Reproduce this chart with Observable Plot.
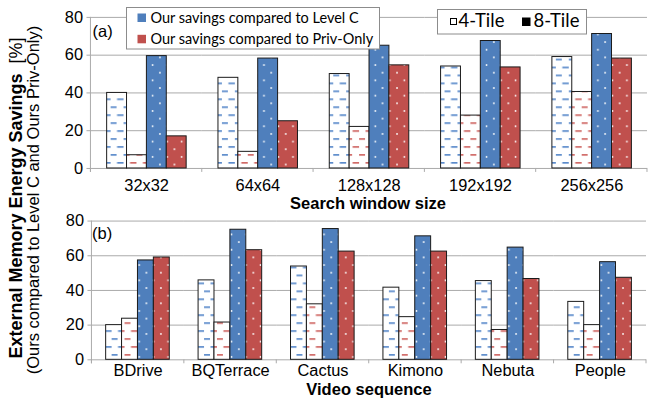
<!DOCTYPE html>
<html><head><meta charset="utf-8">
<script src="https://cdn.jsdelivr.net/npm/d3@7"></script>
<script src="https://cdn.jsdelivr.net/npm/@observablehq/plot@0.6"></script>
<style>
html,body{margin:0;padding:0;overflow:hidden;background:#fff;width:648px;height:400px;}
#wrap{position:relative;width:648px;height:400px;overflow:hidden;}
#wrap svg.panel{position:absolute;left:0;}
#overlay{position:absolute;left:0;top:0;pointer-events:none;}
</style></head>
<body><div id="wrap">
<svg width="0" height="0" style="position:absolute;left:0;top:0">
<defs>
<pattern id="p4c" patternUnits="userSpaceOnUse" width="13" height="16">
  <rect width="13" height="16" fill="#fff"/>
  <rect x="0.5" y="3" width="6.5" height="1.7" fill="#5b8bcb"/>
  <rect x="7" y="11" width="6.5" height="1.7" fill="#5b8bcb"/>
</pattern>
<pattern id="p4p" patternUnits="userSpaceOnUse" width="13" height="16">
  <rect width="13" height="16" fill="#fff"/>
  <rect x="0.5" y="3" width="6.5" height="1.7" fill="#d06a67"/>
  <rect x="7" y="11" width="6.5" height="1.7" fill="#d06a67"/>
</pattern>
<pattern id="p8c" patternUnits="userSpaceOnUse" width="14.6" height="15.4">
  <rect width="14.6" height="15.4" fill="#4f7fbc"/>
  <circle cx="7.3" cy="3.85" r="0.9" fill="#fff"/>
  <circle cx="0" cy="11.55" r="0.9" fill="#fff"/>
  <circle cx="14.6" cy="11.55" r="0.9" fill="#fff"/>
</pattern>
<pattern id="p8p" patternUnits="userSpaceOnUse" width="14.6" height="15.4">
  <rect width="14.6" height="15.4" fill="#c0504d"/>
  <circle cx="7.3" cy="3.85" r="0.9" fill="#fff"/>
  <circle cx="0" cy="11.55" r="0.9" fill="#fff"/>
  <circle cx="14.6" cy="11.55" r="0.9" fill="#fff"/>
</pattern>
</defs></svg>
</div>
<script>
// ---- data ----
const seriesKeys = ["4-Tile Level C", "4-Tile Priv-Only", "8-Tile Level C", "8-Tile Priv-Only"];
const seriesFills = ["url(#p4c)", "url(#p4p)", "url(#p8c)", "url(#p8p)"];

const windowSizes = ["32x32", "64x64", "128x128", "192x192", "256x256"];
const a4TileLevelC   = [40, 48, 50, 54, 59];
const a4TilePrivOnly = [7, 8.8, 22, 28, 40.5];
const a8TileLevelC   = [59.5, 58.2, 65, 67.5, 71.2];
const a8TilePrivOnly = [17, 25, 54.6, 53.5, 58.2];

const sequences = ["BDrive", "BQTerrace", "Cactus", "Kimono", "Nebuta", "People"];
const b4TileLevelC   = [20, 45.8, 53.8, 41.6, 45.4, 33.4];
const b4TilePrivOnly = [23.7, 21.5, 32, 24.6, 17.2, 20];
const b8TileLevelC   = [57.3, 75, 75.4, 71.2, 64.7, 56.3];
const b8TilePrivOnly = [59, 63.2, 62.4, 62.4, 46.6, 47.3];

const yTicks = [0, 20, 40, 60, 80];

function rowsOf(cats, seriesArrays) {
  const rows = [];
  cats.forEach((c, i) => seriesArrays.forEach((arr, k) => rows.push({cat: c, series: seriesKeys[k], value: arr[i]})));
  return rows;
}

const GRID = "#a9a9a9";
const FONT = "'Liberation Sans', Arial, sans-serif";

function panel({cats, series, top, height, marginTop, marginBottom, tickPadding}) {
  const rows = rowsOf(cats, series);
  const chart = Plot.plot({
    width: 652, height,
    marginLeft: 90.7, marginRight: 1.3, marginTop, marginBottom,
    style: {fontFamily: FONT, fontSize: "16.5px", color: "#000", background: "transparent", overflow: "visible"},
    fx: {domain: cats, padding: 0, label: null},
    x: {domain: seriesKeys, paddingInner: 0, paddingOuter: 0.75, axis: null},
    y: {domain: [0, 80]},
    color: {domain: seriesKeys, range: seriesFills},
    marks: [
      Plot.ruleY([20, 40, 60, 80], {stroke: GRID, strokeWidth: 1}),
      Plot.ruleY([0], {stroke: GRID, strokeWidth: 1}),
      Plot.barY(rows, {fx: "cat", x: "series", y: "value", fill: "series", stroke: "#1a1a1a", strokeWidth: 1}),
      Plot.axisY({ticks: yTicks, tickSize: 4, tickPadding: 4, stroke: GRID, fill: "#000", fontSize: 16.5, label: null}),
      Plot.axisFx({anchor: "bottom", tickSize: 0, tickPadding, fontSize: 16.5, label: null, fill: "#000"})
    ]
  });
  chart.classList.add("panel");
  chart.style.top = top + "px";
  chart.style.position = "absolute";
  // axis line + group boundary ticks via the plot's own scales
  const fx = chart.scale("fx"), y = chart.scale("y");
  const y0 = y.apply(0), y80 = y.apply(80);
  const starts = cats.map(c => fx.apply(c));
  starts.push(starts[starts.length - 1] + fx.bandwidth);
  const g = d3.select(chart).append("g").attr("stroke", GRID).attr("stroke-width", 1);
  g.append("line").attr("x1", starts[0]).attr("x2", starts[0]).attr("y1", y80).attr("y2", y0 + 4);
  starts.forEach(s => g.append("line").attr("x1", s).attr("x2", s).attr("y1", y0).attr("y2", y0 + 4));
  document.getElementById("wrap").appendChild(chart);
}

panel({cats: windowSizes, series: [a4TileLevelC, a4TilePrivOnly, a8TileLevelC, a8TilePrivOnly],
       top: 0, height: 200, marginTop: 17, marginBottom: 31, tickPadding: 11});
panel({cats: sequences, series: [b4TileLevelC, b4TilePrivOnly, b8TileLevelC, b8TilePrivOnly],
       top: 200, height: 200, marginTop: 20.7, marginBottom: 39.7, tickPadding: 5});

// ---- overlay texts & legends ----
const ov = d3.select("#wrap").append("svg").attr("id", "overlay").attr("width", 648).attr("height", 400)
  .style("font-family", FONT);

// y title
const t1 = ov.append("text").attr("transform", "translate(22,198) rotate(-90)").attr("text-anchor", "middle")
  .attr("font-size", 18);
t1.append("tspan").attr("font-weight", "bold").text("External Memory Energy Savings");
t1.append("tspan").text("\u00a0\u00a0[%]");
ov.append("text").attr("transform", "translate(38.5,200) rotate(-90)").attr("text-anchor", "middle")
  .attr("font-size", 16.5).text("(Ours compared to Level C and Ours Priv-Only)");

// x titles
ov.append("text").attr("x", 368).attr("y", 208.5).attr("text-anchor", "middle").attr("font-weight", "bold")
  .attr("font-size", 16.5).text("Search window size");
ov.append("text").attr("x", 369).attr("y", 395).attr("text-anchor", "middle").attr("font-weight", "bold")
  .attr("font-size", 16.5).text("Video sequence");

// panel labels
ov.append("text").attr("x", 92.5).attr("y", 36.5).attr("font-size", 16.5).text("(a)");
ov.append("text").attr("x", 92).attr("y", 239).attr("font-size", 16.5).text("(b)");

// legend 1
const L1 = ov.append("g").style("font-family", "Lato, 'Open Sans', sans-serif");
L1.append("rect").attr("x", 126.5).attr("y", 7.5).attr("width", 253).attr("height", 41.5)
  .attr("fill", "#fff").attr("stroke", "#8c8c8c");
L1.append("rect").attr("x", 137.5).attr("y", 13.5).attr("width", 8.5).attr("height", 8.5).attr("fill", "#4f7fbc");
L1.append("rect").attr("x", 137.5).attr("y", 34.8).attr("width", 8.5).attr("height", 8.5).attr("fill", "#c0504d");
L1.append("text").attr("x", 150.5).attr("y", 22.5).attr("font-size", 14.5).text("Our savings compared to Level C");
L1.append("text").attr("x", 150.5).attr("y", 43.5).attr("font-size", 14.5).text("Our savings compared to Priv-Only");

// legend 2
const L2 = ov.append("g").style("font-family", "Lato, 'Open Sans', sans-serif");
L2.append("rect").attr("x", 437.5).attr("y", 9.5).attr("width", 149).attr("height", 24.5)
  .attr("fill", "#fff").attr("stroke", "#8c8c8c");
L2.append("rect").attr("x", 450.5).attr("y", 18.5).attr("width", 6).attr("height", 6)
  .attr("fill", "#fff").attr("stroke", "#000").attr("stroke-width", 1);
L2.append("text").attr("x", 458.5).attr("y", 27.3).attr("font-size", 18.5).text("4-Tile");
L2.append("rect").attr("x", 522).attr("y", 17.5).attr("width", 8.5).attr("height", 8.5).attr("fill", "#000");
L2.append("text").attr("x", 533.5).attr("y", 27.3).attr("font-size", 18.5).text("8-Tile");
</script>
</body></html>
